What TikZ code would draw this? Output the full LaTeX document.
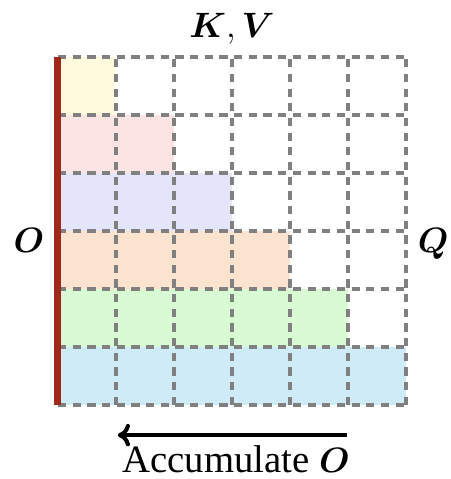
\documentclass[tikz,border=0pt]{standalone}
\usepackage{tikz}
\usetikzlibrary{positioning,arrows.meta}
\usepackage{amsmath,amssymb}
\usepackage{fontspec}
\setmainfont{Liberation Serif}

\definecolor{rowyellow}{HTML}{FFF9DD}
\definecolor{rowpink}{HTML}{FCE4E4}
\definecolor{rowlavender}{HTML}{E4E4FA}
\definecolor{rowpeach}{HTML}{FBE3CF}
\definecolor{rowgreen}{HTML}{D9FBD4}
\definecolor{rowblue}{HTML}{D0EBF8}
\definecolor{barred}{HTML}{A0281A}
\definecolor{gridgray}{HTML}{808080}

\begin{document}
\begin{tikzpicture}[
        gridline/.style={draw=gridgray, line width=2pt, dash pattern=on 4pt off 3.2pt},
        axislabel/.style={font=\fontsize{18.5}{20}\selectfont, text=black},
        caption/.style={font=\fontsize{19}{21}\selectfont, text=black, inner sep=0pt},
        accarrow/.style={line width=2pt, -{Computer Modern Rightarrow[length=6pt,width=11pt]}}
    ]
    \useasboundingbox (-1,-1.276) rectangle (6.759,6.983);

    % Causal mask rows
    \fill[rowblue] (0,0) rectangle (6,1);
    \fill[rowgreen] (0,1) rectangle (5,2);
    \fill[rowpeach] (0,2) rectangle (4,3);
    \fill[rowlavender] (0,3) rectangle (3,4);
    \fill[rowpink] (0,4) rectangle (2,5);
    \fill[rowyellow] (0,5) rectangle (1,6);

    % Blocks
    \draw[gridline] (0,0) grid (6,6);

    % Output column
    \fill[barred] (-0.07,0) rectangle (0.06,6);

    % Labels
    \node[axislabel, anchor=base] (KV) at (3, 6.34) {$\boldsymbol{K}, \boldsymbol{V}$};
    \node[axislabel, anchor=base] (O) at (-0.5, 2.63) {$\boldsymbol{O}$};
    \node[axislabel, anchor=base] (Q) at (6.47, 2.63) {$\boldsymbol{Q}$};

    % Accumulate arrow
    \coordinate (start) at (4.98, -0.52);
    \coordinate (end) at (1.03, -0.52);
    \draw[accarrow] (start) -- (end);
    \node[caption, anchor=base] (acc) at (3.07, -1.17) {Accumulate $\boldsymbol{O}$};

\end{tikzpicture}
\end{document}
